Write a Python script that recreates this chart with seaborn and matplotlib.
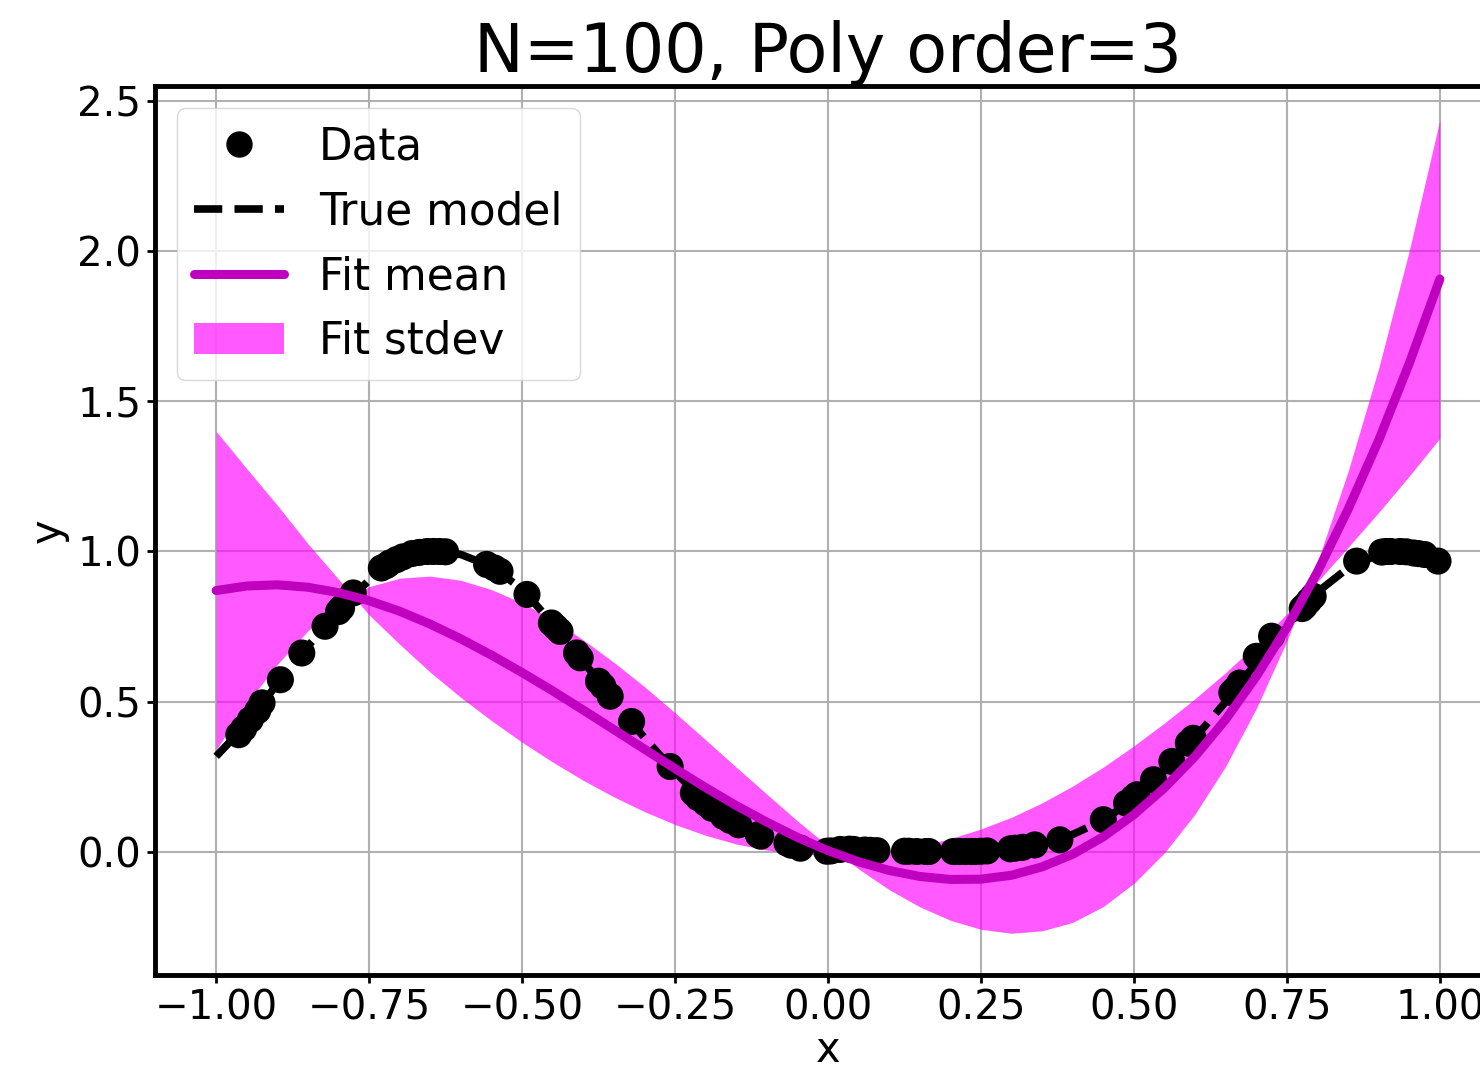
import numpy as np
import pandas as pd
import matplotlib
matplotlib.use("Agg")
import matplotlib.pyplot as plt
from matplotlib.lines import Line2D
from matplotlib.patches import Patch
import seaborn as sns

# observed data points (x, y)
data_x = [-0.963, -0.955, -0.944, -0.932, -0.925, -0.895, -0.860, -0.822, -0.800, -0.795,
          -0.776, -0.730, -0.722, -0.716, -0.705, -0.695, -0.680, -0.668, -0.655, -0.645,
          -0.635, -0.625, -0.558, -0.545, -0.536, -0.492, -0.452, -0.445, -0.438, -0.411,
          -0.405, -0.375, -0.368, -0.356, -0.321, -0.258, -0.220, -0.212, -0.200, -0.190,
          -0.171, -0.160, -0.146, -0.114, -0.110, -0.067, -0.060, -0.045, -0.002, 0.005,
          0.020, 0.035, 0.042, 0.060, 0.069, 0.080, 0.125, 0.132, 0.145, 0.160,
          0.165, 0.205, 0.215, 0.225, 0.235, 0.240, 0.250, 0.260, 0.298, 0.305,
          0.318, 0.338, 0.379, 0.450, 0.488, 0.499, 0.505, 0.532, 0.562, 0.589,
          0.597, 0.660, 0.665, 0.673, 0.700, 0.725, 0.775, 0.779, 0.786, 0.793,
          0.864, 0.905, 0.912, 0.920, 0.935, 0.945, 0.957, 0.965, 0.975, 0.997]
data_y = [0.390, 0.410, 0.440, 0.470, 0.496, 0.573, 0.662, 0.751, 0.800, 0.812,
          0.862, 0.945, 0.953, 0.962, 0.973, 0.982, 0.993, 0.997, 1.000, 1.000,
          1.000, 0.999, 0.957, 0.945, 0.934, 0.857, 0.762, 0.748, 0.734, 0.662,
          0.646, 0.568, 0.552, 0.518, 0.434, 0.284, 0.196, 0.180, 0.162, 0.145,
          0.118, 0.105, 0.090, 0.057, 0.052, 0.029, 0.022, 0.012, 0.002, 0.003,
          0.008, 0.009, 0.008, 0.006, 0.005, 0.004, 0.002, 0.002, 0.001, 0.001,
          0.001, 0.001, 0.001, 0.001, 0.001, 0.001, 0.002, 0.003, 0.010, 0.012,
          0.015, 0.023, 0.040, 0.107, 0.162, 0.180, 0.190, 0.240, 0.301, 0.362,
          0.378, 0.530, 0.540, 0.562, 0.651, 0.718, 0.810, 0.818, 0.835, 0.851,
          0.968, 0.998, 1.000, 1.000, 1.000, 0.999, 0.995, 0.993, 0.990, 0.968]

# curve grid
grid_x = [-1.00, -0.95, -0.90, -0.85, -0.80, -0.75, -0.70, -0.65, -0.60, -0.55,
          -0.50, -0.45, -0.40, -0.35, -0.30, -0.25, -0.20, -0.15, -0.10, -0.05,
          0.00, 0.05, 0.10, 0.15, 0.20, 0.25, 0.30, 0.35, 0.40, 0.45,
          0.50, 0.55, 0.60, 0.65, 0.70, 0.75, 0.80, 0.85, 0.90, 0.95, 1.00]
true_y = [0.318, 0.425, 0.560, 0.685, 0.800, 0.905, 0.972, 1.000, 0.990, 0.950,
          0.875, 0.760, 0.635, 0.500, 0.380, 0.265, 0.165, 0.095, 0.048, 0.016,
          0.000, 0.003, 0.002, 0.000, 0.000, 0.003, 0.012, 0.028, 0.058, 0.105,
          0.175, 0.270, 0.380, 0.500, 0.630, 0.750, 0.865, 0.945, 0.990, 1.000, 0.970]
fit_mean = [0.870, 0.885, 0.889, 0.881, 0.863, 0.836, 0.801, 0.758, 0.709, 0.655,
            0.597, 0.536, 0.472, 0.407, 0.342, 0.277, 0.214, 0.154, 0.099, 0.048,
            0.004, -0.033, -0.062, -0.082, -0.092, -0.091, -0.078, -0.050, -0.008, 0.050,
            0.124, 0.213, 0.318, 0.441, 0.584, 0.747, 0.932, 1.140, 1.370, 1.626, 1.907]
# signed spread: the band pinches where it changes sign
fit_std = [0.530, 0.391, 0.265, 0.145, 0.045, -0.047, -0.110, -0.160, -0.195, -0.218,
           -0.232, -0.237, -0.234, -0.224, -0.208, -0.186, -0.159, -0.128, -0.093, -0.055,
           -0.016, 0.024, 0.064, 0.101, 0.136, 0.167, 0.193, 0.213, 0.227, 0.232,
           0.229, 0.216, 0.192, 0.156, 0.107, 0.045, -0.033, -0.126, -0.240, -0.375, -0.530]

df_data = pd.DataFrame({"x": data_x, "y": data_y})
df_curve = pd.DataFrame({"x": grid_x, "true": true_y, "mean": fit_mean, "std": fit_std})

sns.set_style("whitegrid", {"axes.edgecolor": "black", "grid.color": "#b0b0b0",
                            "xtick.bottom": True, "ytick.left": True,
                            "text.color": "black", "axes.labelcolor": "black",
                            "xtick.color": "black", "ytick.color": "black"})
plt.rcParams["font.family"] = ["DejaVu Sans"]

fig = plt.figure(figsize=(14.8, 10.76), dpi=100)
ax = fig.add_axes([0.1047, 0.0939, 0.9095, 0.8262])

ax.fill_between(df_curve["x"], df_curve["mean"] - df_curve["std"],
                df_curve["mean"] + df_curve["std"], color="magenta", alpha=0.65,
                linewidth=0, zorder=1)
sns.lineplot(data=df_curve, x="x", y="true", color="black", linestyle="--",
             linewidth=5.5, ax=ax, zorder=2)
sns.scatterplot(data=df_data, x="x", y="y", color="black", s=380, edgecolor="none",
                ax=ax, zorder=3)
sns.lineplot(data=df_curve, x="x", y="mean", color="m", linewidth=6.5, ax=ax, zorder=4)

ax.set_xlim(-1.1, 1.1)
ax.set_ylim(-0.41, 2.55)
ax.set_xticks([-1.0, -0.75, -0.5, -0.25, 0.0, 0.25, 0.5, 0.75, 1.0])
ax.set_xticklabels(["\u22121.00", "\u22120.75", "\u22120.50", "\u22120.25", "0.00",
                    "0.25", "0.50", "0.75", "1.00"])
ax.set_yticks([0.0, 0.5, 1.0, 1.5, 2.0, 2.5])
ax.set_yticklabels(["0.0", "0.5", "1.0", "1.5", "2.0", "2.5"])
ax.tick_params(labelsize=29, length=6, width=2, pad=4, colors="black")
ax.grid(True, color="#b0b0b0", linewidth=1.5)
for sp in ax.spines.values():
    sp.set_linewidth(3.5)
    sp.set_color("black")

ax.set_xlabel("x", fontsize=30, labelpad=0, color="black")
ax.set_ylabel("y", fontsize=30, labelpad=6, color="black")
ax.set_title("N=100, Poly order=3", fontsize=48, pad=4, color="black")

handles = [
    Line2D([], [], marker="o", color="black", linestyle="none", markersize=18),
    Line2D([], [], color="black", linestyle="--", linewidth=5.5),
    Line2D([], [], color="m", linewidth=6.5),
    Patch(facecolor="magenta", alpha=0.65, edgecolor="none"),
]
leg = ax.legend(handles, ["Data", "True model", "Fit mean", "Fit stdev"], loc="upper left",
                fontsize=31.5, handlelength=2.05, framealpha=0.8, edgecolor="#d0d0d0",
                borderaxespad=0.5)
for t in leg.get_texts():
    t.set_color("black")

fig.savefig("out.png", dpi=100)
